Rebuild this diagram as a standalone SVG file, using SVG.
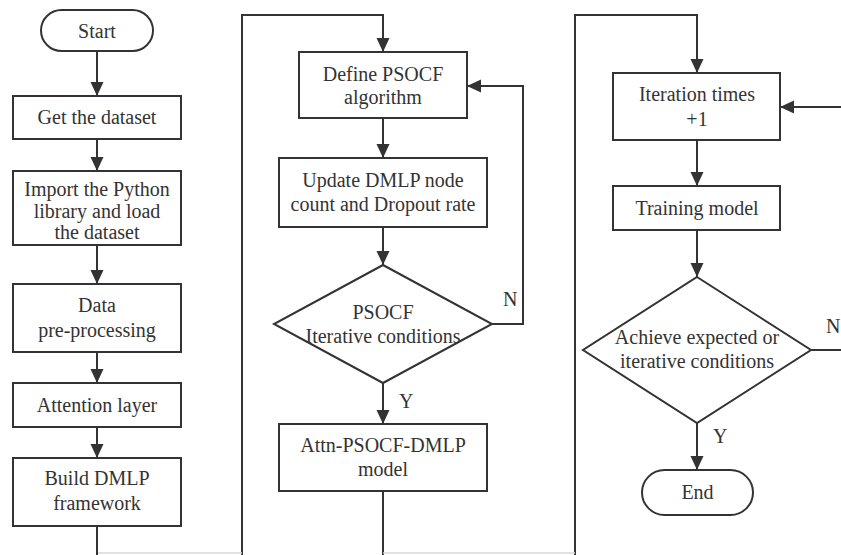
<svg xmlns="http://www.w3.org/2000/svg" width="841" height="555" viewBox="0 0 841 555">
  <style>
    .box { fill: #ffffff; stroke: #333333; stroke-width: 2; }
    .wire { fill: none; stroke: #333333; stroke-width: 2; }
    .faint { fill: none; stroke: #d8d8d8; stroke-width: 1.5; }
    text { font-family: "Liberation Serif", "Times New Roman", serif; font-size: 20px; fill: #333333; text-anchor: middle; }
    .lbl { text-anchor: start; }
  </style>
  <defs>
    <marker id="arrow" markerUnits="userSpaceOnUse" markerWidth="14" markerHeight="14" viewBox="0 0 14 14" refX="14" refY="7" orient="auto">
      <path d="M0,0.5 L14,7 L0,13.5 Z" fill="#333333"/>
    </marker>
  </defs>

  <rect width="841" height="555" fill="#ffffff"/>

  <!-- connectors -->
  <g id="connectors">
    <!-- left column -->
    <line class="wire" x1="97" y1="51" x2="97" y2="96" marker-end="url(#arrow)"/>
    <line class="wire" x1="97" y1="139" x2="97" y2="171" marker-end="url(#arrow)"/>
    <line class="wire" x1="97" y1="245" x2="97" y2="284" marker-end="url(#arrow)"/>
    <line class="wire" x1="97" y1="352" x2="97" y2="383" marker-end="url(#arrow)"/>
    <line class="wire" x1="97" y1="427" x2="97" y2="458" marker-end="url(#arrow)"/>
    <line class="wire" x1="97" y1="526" x2="97" y2="555"/>
    <!-- link into middle column -->
    <polyline class="wire" points="242,555 242,15 383,15 383,52" marker-end="url(#arrow)"/>
    <!-- middle column -->
    <line class="wire" x1="383" y1="118" x2="383" y2="158" marker-end="url(#arrow)"/>
    <line class="wire" x1="383" y1="227" x2="383" y2="265" marker-end="url(#arrow)"/>
    <polyline class="wire" points="492,324 523,324 523,86 467,86" marker-end="url(#arrow)"/>
    <line class="wire" x1="383" y1="383" x2="383" y2="424" marker-end="url(#arrow)"/>
    <line class="wire" x1="383" y1="491" x2="383" y2="555"/>
    <!-- link into right column -->
    <polyline class="wire" points="575,555 575,15 697,15 697,73" marker-end="url(#arrow)"/>
    <!-- right column -->
    <line class="wire" x1="697" y1="140" x2="697" y2="186" marker-end="url(#arrow)"/>
    <line class="wire" x1="697" y1="230" x2="697" y2="277" marker-end="url(#arrow)"/>
    <line class="wire" x1="841" y1="107" x2="780" y2="107" marker-end="url(#arrow)"/>
    <line class="wire" x1="811" y1="350" x2="841" y2="350"/>
    <line class="wire" x1="697" y1="423" x2="697" y2="470" marker-end="url(#arrow)"/>
    <!-- bottom joins, barely visible at the lower edge -->
    <line class="faint" x1="98" y1="553" x2="242" y2="553"/>
    <line class="faint" x1="383" y1="553" x2="575" y2="553"/>
    <!-- branch labels -->
    <text class="lbl" x="503" y="306">N</text>
    <text class="lbl" x="399" y="408">Y</text>
    <text class="lbl" x="826" y="333">N</text>
    <text class="lbl" x="713" y="443">Y</text>
  </g>

  <!-- left column nodes -->
  <g id="start">
    <rect class="box" x="41" y="10" width="112" height="41" rx="20.5"/>
    <text x="97" y="37.5">Start</text>
  </g>
  <g id="get-dataset">
    <rect class="box" x="13" y="96" width="168" height="43"/>
    <text x="97" y="124">Get the dataset</text>
  </g>
  <g id="import-library">
    <rect class="box" x="13" y="171" width="168" height="74"/>
    <text x="97" y="196">Import the Python</text>
    <text x="97" y="218">library and load</text>
    <text x="97" y="239">the dataset</text>
  </g>
  <g id="preprocessing">
    <rect class="box" x="13" y="284" width="168" height="68"/>
    <text x="97" y="312">Data</text>
    <text x="97" y="337">pre-processing</text>
  </g>
  <g id="attention-layer">
    <rect class="box" x="13" y="383" width="168" height="44"/>
    <text x="97" y="412">Attention layer</text>
  </g>
  <g id="build-dmlp">
    <rect class="box" x="13" y="458" width="168" height="68"/>
    <text x="97" y="485">Build DMLP</text>
    <text x="97" y="510">framework</text>
  </g>

  <!-- middle column nodes -->
  <g id="define-psocf">
    <rect class="box" x="299" y="52" width="168" height="66"/>
    <text x="383" y="81">Define PSOCF</text>
    <text x="383" y="104">algorithm</text>
  </g>
  <g id="update-dmlp">
    <rect class="box" x="279" y="158" width="208" height="69"/>
    <text x="383" y="187">Update DMLP node</text>
    <text x="383" y="211">count and Dropout rate</text>
  </g>
  <g id="psocf-condition">
    <polygon class="box" points="383,265 492,324 383,383 274,324"/>
    <text x="383" y="319">PSOCF</text>
    <text x="383" y="343">Iterative conditions</text>
  </g>
  <g id="attn-psocf-dmlp">
    <rect class="box" x="279" y="424" width="208" height="67"/>
    <text x="383" y="452">Attn-PSOCF-DMLP</text>
    <text x="383" y="476">model</text>
  </g>

  <!-- right column nodes -->
  <g id="iteration-times">
    <rect class="box" x="613" y="73" width="167" height="67"/>
    <text x="697" y="101">Iteration times</text>
    <text x="697" y="126">+1</text>
  </g>
  <g id="training-model">
    <rect class="box" x="613" y="186" width="167" height="44"/>
    <text x="697" y="215">Training model</text>
  </g>
  <g id="stop-condition">
    <polygon class="box" points="697,277 811,350 697,423 583,350"/>
    <text x="697" y="344">Achieve expected or</text>
    <text x="697" y="368">iterative conditions</text>
  </g>
  <g id="end">
    <rect class="box" x="642" y="470" width="111" height="45" rx="22.5"/>
    <text x="697.5" y="499">End</text>
  </g>
</svg>
